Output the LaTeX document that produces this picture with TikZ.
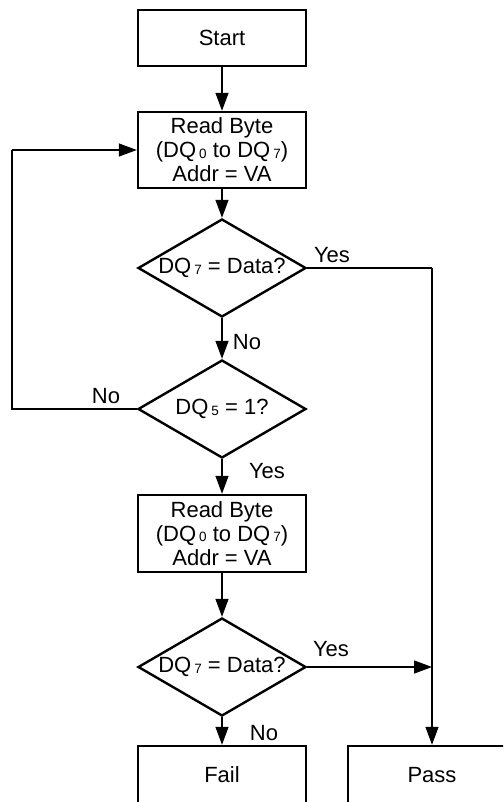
\documentclass[tikz,border=0pt]{standalone}
\usepackage{fontspec}
\setmainfont{Liberation Sans}
\usetikzlibrary{shapes.geometric,arrows.meta}
\newcommand\dqsub[1]{\hspace{3pt}\raisebox{-0.5pt}{\fontsize{13.5}{13.5}\selectfont #1}}
\begin{document}
\begin{tikzpicture}[x=1pt,y=-1pt,
  txt/.style={font=\fontsize{22}{24}\selectfont},
  procbox/.style={draw,line width=2.4pt,rectangle,minimum width=168pt,inner sep=0pt,align=center,txt},
  decision/.style={draw,line width=2.4pt,diamond,aspect=1.714,minimum width=168pt,minimum height=98pt,inner sep=0pt,txt},
  conn/.style={line width=1.3pt,-{Triangle[length=18pt,width=13pt]}},
  plain/.style={line width=1.3pt},
  lbl/.style={txt,inner sep=0pt}]
\useasboundingbox (0,0) rectangle (503,802);
\clip (0,0) rectangle (503,802);
\node[procbox,minimum height=56pt] (start) at (222,38) {Start};
\node[procbox,minimum height=76pt] (read1) at (222,150) {Read Byte\\(DQ\dqsub{0} to DQ\dqsub{7})\\Addr = VA};
\node[decision] (d1) at (222,268) {DQ\dqsub{7} = Data?};
\node[decision] (d2) at (222,409) {DQ\dqsub{5} = 1?};
\node[procbox,minimum height=77pt] (read2) at (222,533.5) {Read Byte\\(DQ\dqsub{0} to DQ\dqsub{7})\\Addr = VA};
\node[decision] (d3) at (222,667) {DQ\dqsub{7} = Data?};
\node[procbox,minimum height=58pt] (fail) at (222,775) {Fail};
\node[procbox,minimum height=58pt] (pass) at (432,775) {Pass};
\coordinate (c1) at (432,268);
\coordinate (c2) at (432,667);
\coordinate (l1) at (12,409);
\coordinate (l2) at (12,150);
\draw[conn] (start) -- (read1);
\draw[conn] (read1) -- (d1);
\draw[conn] (d1) -- (d2);
\draw[conn] (d2) -- (read2);
\draw[conn] (read2) -- (d3);
\draw[conn] (d3) -- (fail);
\draw[plain] (d1.east) -- (c1);
\draw[conn] (c1) -- (pass.north);
\draw[conn] (d3.east) -- (c2);
\draw[plain] (d2.west) -- (l1) -- (l2);
\draw[conn] (l2) -- (read1.west);
\node[lbl] (y1) at (332,255) {Yes};
\node[lbl] (n1) at (247,342) {No};
\node[lbl] (n2) at (106,396) {No};
\node[lbl] (y2) at (267,471) {Yes};
\node[lbl] (y3) at (331,649) {Yes};
\node[lbl] (n3) at (264,733) {No};
\end{tikzpicture}
\end{document}
